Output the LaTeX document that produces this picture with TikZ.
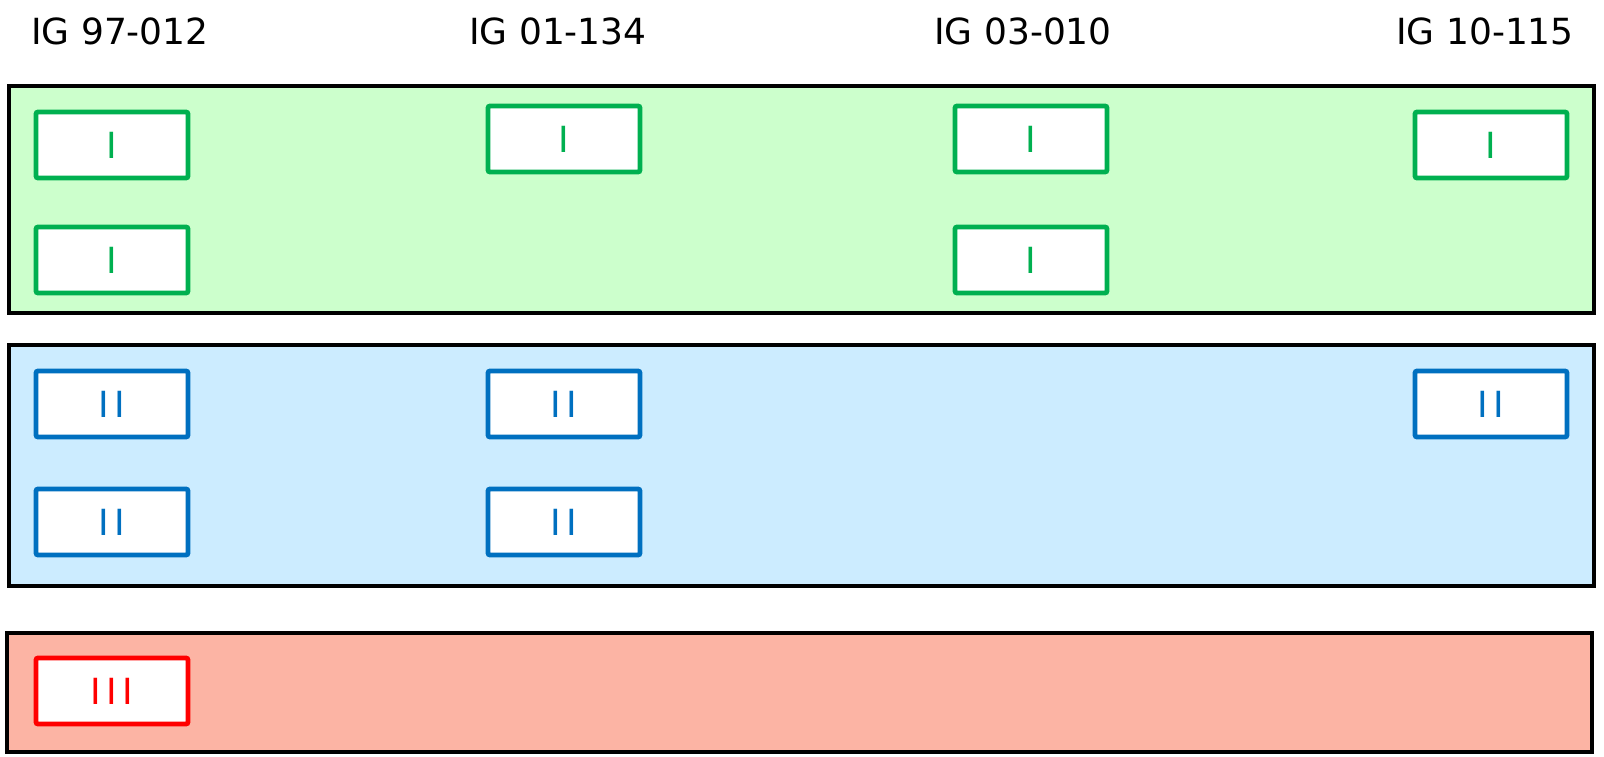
\documentclass[tikz,border=0pt]{standalone}
\usepackage{fontspec}
\setmainfont{DejaVu Sans}
\newfontfamily\romfont[LetterSpace=15]{DejaVu Sans}
\definecolor{grunfill}{HTML}{CCFFCC}
\definecolor{grunline}{HTML}{00B050}
\definecolor{blaufill}{HTML}{CCECFF}
\definecolor{blauline}{HTML}{0070C0}
\definecolor{rotfill}{HTML}{FCB4A4}
\definecolor{rotline}{HTML}{FF0000}
\tikzset{
  band/.style={draw=black, line width=1.8pt},
  klasse/.style={draw, fill=white, line width=2.4pt, rounded corners=1pt,
    minimum width=76pt, minimum height=33pt, inner sep=0pt,
    font=\romfont\fontsize{18}{20}\selectfont},
  kI/.style={klasse, draw=grunline, text=grunline},
  kII/.style={klasse, draw=blauline, text=blauline},
  kIII/.style={klasse, draw=rotline, text=rotline},
  kopf/.style={anchor=base, font=\fontsize{18}{20}\selectfont}
}
\begin{document}
\begin{tikzpicture}[x=0.5pt,y=-0.5pt]
    \useasboundingbox (0,0) rectangle (1604,756);

    \node[kopf] (ig1) at (120,44) {IG 97-012};
    \node[kopf] (ig2) at (558,44) {IG 01-134};
    \node[kopf] (ig3) at (1023,44) {IG 03-010};
    \node[kopf] (ig4) at (1485,44) {IG 10-115};

    \draw[band, fill=grunfill] (9,86) rectangle (1594,313);
    \draw[band, fill=blaufill] (9,345) rectangle (1594,586);
    \draw[band, fill=rotfill] (7,633) rectangle (1592,752);

    \node[kI] (g11) at (112,145) {I};
    \node[kI] (g12) at (112,260) {I};
    \node[kI] (g21) at (564,139) {I};
    \node[kI] (g31) at (1031,139) {I};
    \node[kI] (g32) at (1031,260) {I};
    \node[kI] (g41) at (1491,145) {I};

    \node[kII] (b11) at (112,404) {II};
    \node[kII] (b12) at (112,522) {II};
    \node[kII] (b21) at (564,404) {II};
    \node[kII] (b22) at (564,522) {II};
    \node[kII] (b41) at (1491,404) {II};

    \node[kIII] (r11) at (112,691) {III};
\end{tikzpicture}
\end{document}
